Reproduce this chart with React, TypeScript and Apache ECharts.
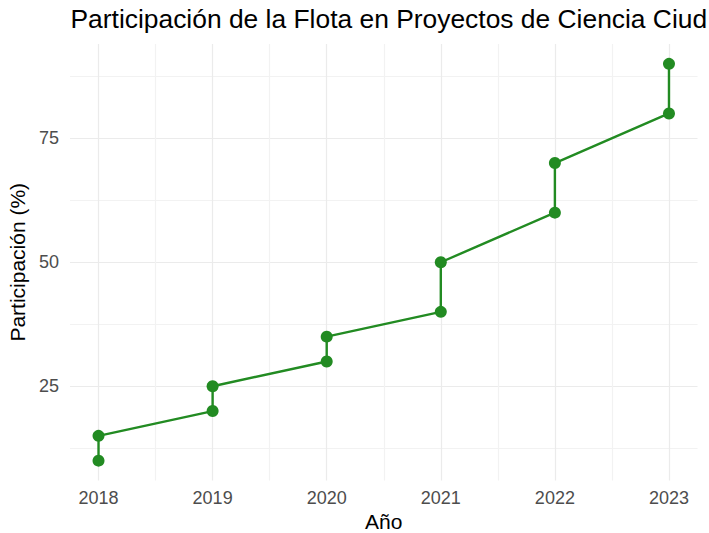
import React, { useEffect, useRef } from "react";
import * as echarts from "echarts";

const titleText = "Participación de la Flota en Proyectos de Ciencia Ciud";
const years = [2018, 2018, 2019, 2019, 2020, 2020, 2021, 2021, 2022, 2022, 2023, 2023];
const participation = [10, 15, 20, 25, 30, 35, 40, 50, 60, 70, 80, 90];
const xTickLabels = [2018, 2019, 2020, 2021, 2022, 2023];
const xGridValues = [2018, 2018.5, 2019, 2019.5, 2020, 2020.5, 2021, 2021.5, 2022, 2022.5, 2023];
const yTickLabels = [25, 50, 75];
const yGridValues = [12.5, 25, 37.5, 50, 62.5, 75, 87.5];

const FONT = "Liberation Sans, Arial, sans-serif";

export default function App() {
  const ref = useRef<HTMLDivElement>(null);
  useEffect(() => {
    if (!ref.current) return;
    const chart = echarts.init(ref.current, null, { renderer: "svg" });
    const data = years.map((y, i) => [y, participation[i]]);
    chart.setOption({
      animation: false,
      backgroundColor: "#ffffff",
      title: {
        text: titleText,
        left: 70.5,
        top: 5.5,
        padding: 0,
        textStyle: {
          fontFamily: FONT,
          fontSize: 26.4,
          fontWeight: "normal",
          color: "#000000",
        },
      },
      grid: { left: 70, right: 11.5, top: 44, bottom: 52.5, outerBoundsMode: "none", containLabel: false },
      xAxis: {
        type: "value",
        min: 2017.75,
        max: 2023.25,
        name: "Año",
        nameLocation: "middle",
        nameGap: 28,
        nameTextStyle: { fontFamily: FONT, fontSize: 21, color: "#000000" },
        axisLine: { show: false },
        axisTick: { show: false, customValues: xGridValues },
        axisLabel: {
          customValues: xTickLabels,
          margin: 8,
          fontFamily: FONT,
          fontSize: 18,
          color: "#4d4d4d",
          formatter: (v: number) => String(Math.round(v)),
        },
        splitLine: { show: true, lineStyle: { color: ["#ebebeb", "#f2f2f2"], width: 1.2 } },
      },
      yAxis: {
        type: "value",
        min: 6,
        max: 94,
        name: "Participación (%)",
        nameLocation: "middle",
        nameGap: 37,
        nameTextStyle: { fontFamily: FONT, fontSize: 21, color: "#000000" },
        axisLine: { show: false },
        axisTick: { show: false, customValues: yGridValues },
        axisLabel: {
          customValues: yTickLabels,
          margin: 11,
          fontFamily: FONT,
          fontSize: 18,
          color: "#4d4d4d",
        },
        splitLine: { show: true, lineStyle: { color: ["#f2f2f2", "#ebebeb"], width: 1.2 } },
      },
      series: [
        {
          type: "line",
          data,
          symbol: "circle",
          symbolSize: 12,
          itemStyle: { color: "#228B22" },
          lineStyle: { color: "#228B22", width: 2.4 },
        },
      ],
    });
    return () => chart.dispose();
  }, []);
  return <div ref={ref} style={{ width: 709, height: 533, position: "absolute", left: 0, top: 0 }} />;
}
